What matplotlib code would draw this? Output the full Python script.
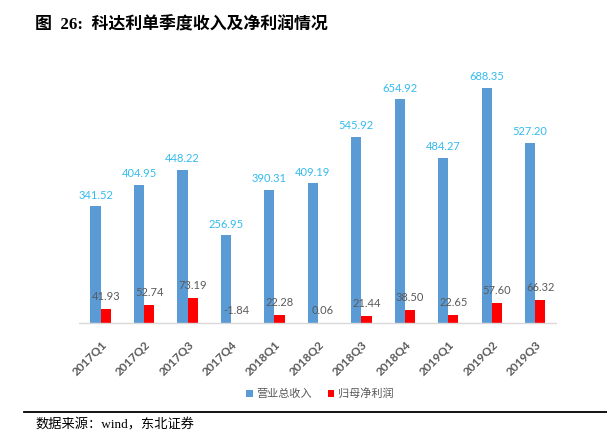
import numpy as np
import matplotlib.pyplot as plt

quarters = ["2017Q1", "2017Q2", "2017Q3", "2017Q4", "2018Q1", "2018Q2",
            "2018Q3", "2018Q4", "2019Q1", "2019Q2", "2019Q3"]
revenue = [341.52, 404.95, 448.22, 256.95, 390.31, 409.19,
           545.92, 654.92, 484.27, 688.35, 527.20]
net_profit = [41.93, 52.74, 73.19, -1.84, 22.28, 0.06,
              21.44, 38.50, 22.65, 57.60, 66.32]

title = "图  26:  科达利单季度收入及净利润情况"
source = "数据来源：wind，东北证券"
legend_labels = ["营业总收入", "归母净利润"]

BLUE = "#5B9BD5"
RED = "#FF0000"
CYAN = "#33BBEE"
GRAY = "#595959"

fig = plt.figure(figsize=(6.07, 4.41), dpi=100)
ax = fig.add_axes([0.130, 0.260, 0.7875, 0.596])

x = np.arange(len(quarters))
w = 0.235
b1 = ax.bar(x - w / 2, revenue, w, color=BLUE, label=legend_labels[0])
b2 = ax.bar(x + w / 2, net_profit, w, color=RED, label=legend_labels[1])

# value labels
for xi, v in zip(x, revenue):
    ax.annotate(f"{v:.2f}", (xi - w / 2, max(v, 0)), xytext=(0, 8),
                textcoords="offset points", ha="center", va="center",
                fontsize=8, color=CYAN, family="Lato")
for xi, v in zip(x, net_profit):
    ax.annotate(f"{v:.2f}", (xi + w / 2, max(v, 0)), xytext=(0, 9),
                textcoords="offset points", ha="center", va="center",
                fontsize=8, color=GRAY, family="Lato")

ax.set_xlim(-0.5, 10.5)
ax.set_ylim(-10, 760)
ax.axhline(0, color="#D9D9D9", lw=1)
for s in ax.spines.values():
    s.set_visible(False)
ax.set_yticks([])
ax.set_xticks(x)
ax.set_xticklabels(quarters, rotation=45, ha="right", va="top",
                   rotation_mode="anchor", fontsize=8.5, fontweight="bold",
                   color=GRAY, family="Lato")
ax.tick_params(axis="x", length=0, pad=9)

leg = fig.legend(handles=[b1, b2], labels=legend_labels, loc="center",
                 bbox_to_anchor=(0.527, 0.107), ncol=2, frameon=False,
                 prop={"family": ["Noto Sans CJK SC"], "size": 8},
                 handlelength=0.6, handleheight=0.6, handletextpad=0.3,
                 columnspacing=1.4)
for t in leg.get_texts():
    t.set_color(GRAY)

fig.text(0.058, 0.943, title, fontsize=12.2, fontweight="bold",
         family=["Liberation Serif", "Noto Sans CJK SC"], va="center")
fig.add_artist(plt.Line2D([0.040, 1.0], [0.066, 0.066], color="black", lw=1.3,
                          transform=fig.transFigure))
fig.text(0.058, 0.037, source, fontsize=9.5,
         family=["Liberation Serif", "Noto Sans CJK SC"], va="center")

fig.savefig("out.png", dpi=100)
